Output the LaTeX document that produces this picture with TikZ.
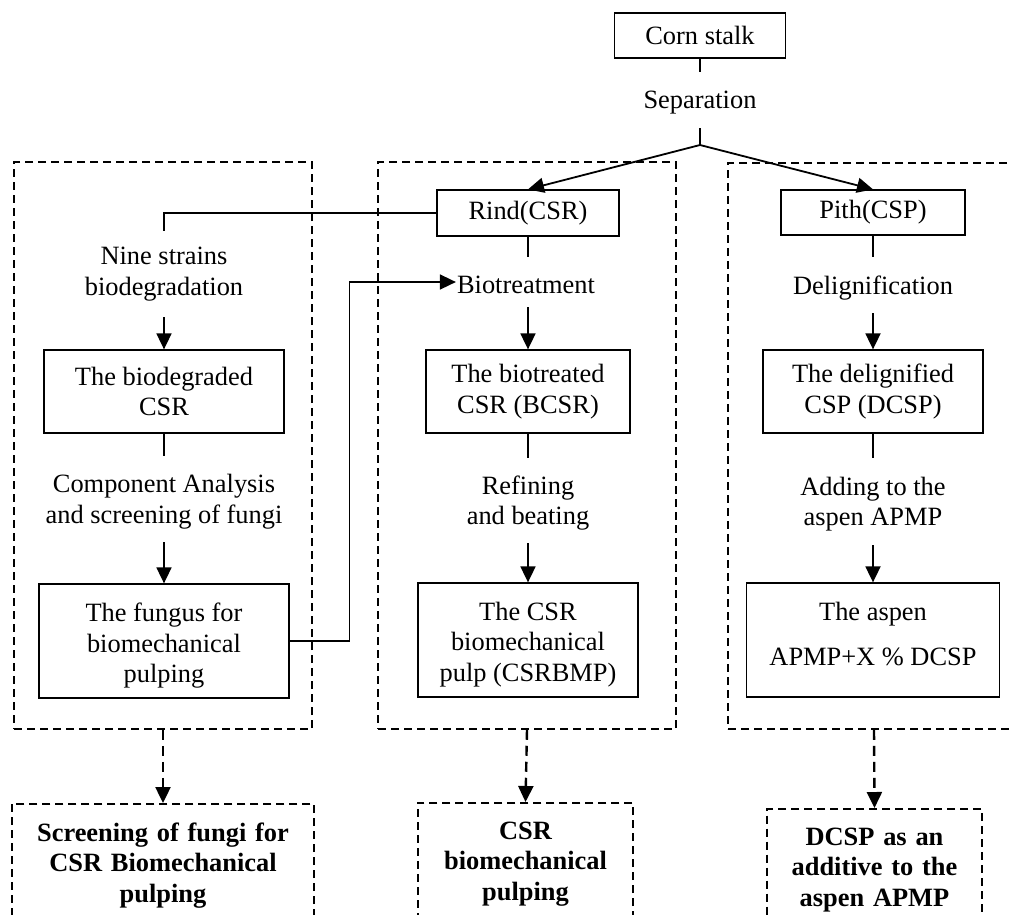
\documentclass[tikz,border=0pt]{standalone}
\usepackage{fontspec}
\setmainfont{Liberation Serif}
\usetikzlibrary{arrows.meta}
\newcommand\labfont{\fontsize{26.4}{30.5}\selectfont}
\newcommand\resfont{\fontsize{26.4}{30.5}\selectfont\bfseries}
\newcommand\upstrut[1]{\rule{0pt}{#1}}
\tikzset{
  box/.style={draw, line width=1.3pt, inner sep=0pt, align=center, font=\labfont},
  lbl/.style={inner sep=0pt, align=center, font=\labfont},
  frame/.style={draw, line width=1.5pt, dash pattern=on 8pt off 5pt, inner sep=0pt},
  resbox/.style={draw, line width=1.5pt, dash pattern=on 8pt off 5pt, inner xsep=5pt, inner ysep=19pt, anchor=north, align=center, font=\resfont},
  conn/.style={line width=1.8pt},
  arr/.style={line width=1.8pt, -{Triangle[length=16pt,width=15pt]}},
  darr/.style={line width=2.4pt, dash pattern=on 10pt off 6pt, -{Triangle[length=16pt,width=15pt]}},
}
\begin{document}
\begin{tikzpicture}[x=1pt,y=-1pt]
\useasboundingbox (0,0) rectangle (1010,914);
\clip (0,0) rectangle (1010,914);
% frames
\node[frame, minimum width=298pt, minimum height=567pt] (fL) at (163,445.5) {};
\node[frame, minimum width=298pt, minimum height=567pt] (fM) at (527,445.5) {};
\node[frame, minimum width=292pt, minimum height=566pt] (fR) at (874,446) {};
% top
\node[box, minimum width=171pt, minimum height=45pt] (corn) at (700,35.5) {Corn stalk};
\node[lbl, minimum height=56pt, text depth=0pt] (sep) at (700,100) {Separation};
\coordinate (j) at (700,145);
\node[box, minimum width=182pt, minimum height=46pt] (rind) at (528,213) {Rind(CSR)};
\node[box, minimum width=184pt, minimum height=45pt] (pith) at (873,212.5) {Pith(CSP)};
% left column
\node[lbl, minimum height=86pt] (nine) at (164,274) {Nine strains\\biodegradation};
\node[box, minimum width=240pt, minimum height=83pt] (biod) at (164,391.5) {The biodegraded\\CSR};
\node[lbl, minimum height=86pt] (comp) at (164,499) {\upstrut{24pt}Component Analysis\\and screening of fungi};
\node[box, minimum width=250pt, minimum height=114pt] (fung) at (164,641) {\upstrut{28pt}The fungus for\\biomechanical\\pulping};
% middle column
\node[lbl, minimum height=50pt, inner xsep=1pt] (biot) at (526,282) {\upstrut{24pt}Biotreatment};
\node[box, minimum width=204pt, minimum height=83pt] (biotd) at (528,391.5) {The biotreated\\CSR (BCSR)};
\node[lbl, minimum height=85pt] (ref) at (528,500.5) {\upstrut{24pt}Refining\\and beating};
\node[box, minimum width=220pt, minimum height=114pt] (csrb) at (528,640) {\upstrut{27pt}The CSR\\biomechanical\\pulp (CSRBMP)};
% right column
\node[lbl, minimum height=56pt, text depth=0pt] (delig) at (873,285) {Delignification};
\node[box, minimum width=220pt, minimum height=83pt] (deligd) at (873,391.5) {The delignified\\CSP (DCSP)};
\node[lbl, minimum height=87pt] (add) at (873,501.5) {\upstrut{24pt}Adding to the\\aspen APMP};
\node[box, minimum width=253pt, minimum height=114pt] (aspen) at (873,640) {The aspen\\[14pt]APMP+X \% DCSP\rule[-12pt]{0pt}{1pt}};
% results
\node[resbox, text width=292pt] (resL) at (163,803) {Screening of fungi for\\CSR Biomechanical\\pulping};
\node[resbox, text width=205pt] (resM) at (525.5,802) {CSR\\biomechanical\\pulping};
\node[resbox, text width=205pt] (resR) at (874.5,808) {DCSP as an\\additive to the\\aspen APMP};
% connectors top
\draw[conn] (corn.south) -- (sep.north);
\draw[conn] (sep.south) -- (j);
\draw[arr] (j) -- (rind.north);
\draw[arr] (j) -- (pith.north);
% left
\draw[line width=1.4pt] (rind.west) -| (nine.north);
\draw[arr] (nine.south) -- (biod.north);
\draw[conn] (biod.south) -- (comp.north);
\draw[arr] (comp.south) -- (fung.north);
\draw[line width=1.6pt, -{Triangle[length=16pt,width=15pt]}] (fung.east) -- ++(60,0) |- (biot.west);
% middle
\draw[conn] (rind.south) -- (rind.south |- biot.north);
\draw[arr] (biotd.north |- biot.south) -- (biotd.north);
\draw[conn] (biotd.south) -- (ref.north);
\draw[arr] (ref.south) -- (csrb.north);
% right
\draw[conn] (pith.south) -- (delig.north);
\draw[arr] (delig.south) -- (deligd.north);
\draw[conn] (deligd.south) -- (add.north);
\draw[arr] (add.south) -- (aspen.north);
% dashed arrows
\draw[darr] (fL.south) -- (resL.north);
\draw[darr] (fM.south) -- (resM.north);
\draw[darr] (fR.south) -- (resR.north);
\end{tikzpicture}
\end{document}
